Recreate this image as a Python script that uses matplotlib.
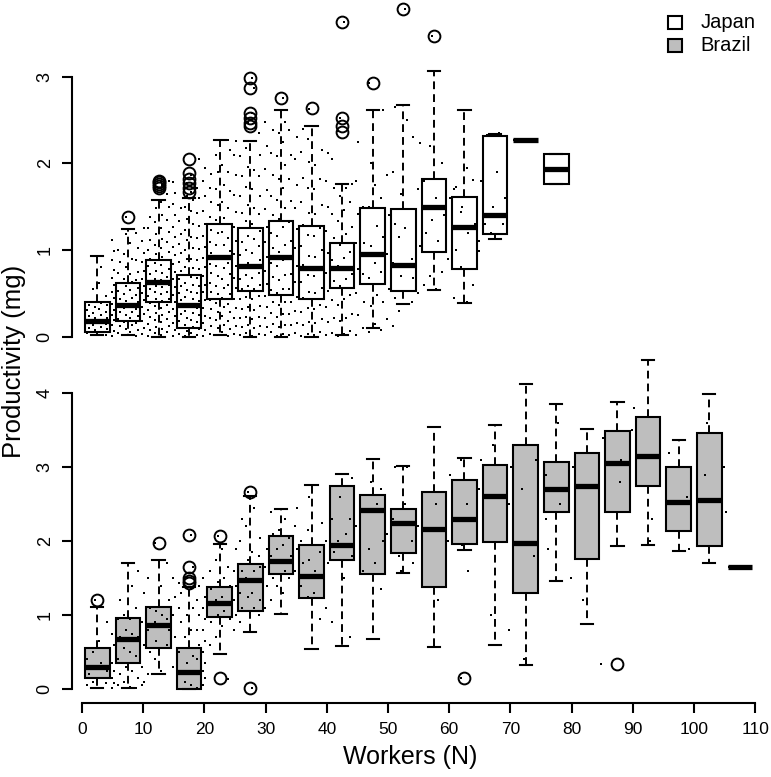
import numpy as np
import matplotlib
matplotlib.use("Agg")
import matplotlib.pyplot as plt
from matplotlib.patches import Rectangle

plt.rcParams['font.family'] = ['Liberation Sans', 'DejaVu Sans']

# ---- box statistics, one bin per 5 workers ----
jp_pos = [2.5, 7.5, 12.5, 17.5, 22.5, 27.5, 32.5, 37.5, 42.5, 47.5,
          52.5, 57.5, 62.5, 67.5, 72.5, 77.5]
jp_lo = [0.02, 0.02, 0.0, 0.0, 0.02, 0.0, 0.0, 0.0, 0.02, 0.10,
         0.38, 0.54, 0.39, 1.13, 2.27, 1.76]
jp_q1 = [0.05, 0.18, 0.40, 0.10, 0.435, 0.53, 0.48, 0.435, 0.56, 0.61,
         0.53, 0.98, 0.78, 1.18, 2.27, 1.76]
jp_med = [0.185, 0.365, 0.635, 0.365, 0.923, 0.81, 0.923, 0.79, 0.79, 0.955,
          0.83, 1.50, 1.26, 1.40, 2.27, 1.93]
jp_q3 = [0.40, 0.62, 0.89, 0.71, 1.30, 1.25, 1.34, 1.28, 1.085, 1.49,
         1.47, 1.82, 1.61, 2.315, 2.27, 2.11]
jp_hi = [0.93, 1.24, 1.58, 1.60, 2.27, 2.26, 2.62, 2.43, 1.76, 2.62,
         2.67, 3.07, 2.62, 2.34, 2.27, 2.11]
jp_out = [[], [1.385], [1.72, 1.74, 1.76, 1.78, 1.80], [1.67, 1.72, 1.77, 1.82, 1.885, 2.05],
          [], [2.43, 2.46, 2.52, 2.58, 2.87, 2.99], [2.75], [2.635],
          [2.365, 2.43, 2.52, 3.635], [2.93], [3.78], [3.47], [], [], [], []]

br_pos = [2.5, 7.5, 12.5, 17.5, 22.5, 27.5, 32.5, 37.5, 42.5, 47.5, 52.5,
          57.5, 62.5, 67.5, 72.5, 77.5, 82.5, 87.5, 92.5, 97.5, 102.5, 107.5]
br_lo = [0.01, 0.01, 0.20, 0.0, 0.47, 0.775, 1.015, 0.54, 0.58, 0.67, 1.575,
         0.57, 1.88, 0.595, 0.325, 1.46, 0.875, 1.94, 1.95, 1.87, 1.70, 1.645]
br_q1 = [0.145, 0.35, 0.55, 0.0, 0.97, 1.06, 1.555, 1.235, 1.745, 1.555, 1.835,
         1.375, 1.96, 1.985, 1.295, 2.40, 1.755, 2.40, 2.75, 2.14, 1.935, 1.645]
br_med = [0.30, 0.67, 0.866, 0.235, 1.16, 1.475, 1.735, 1.53, 1.95, 2.42, 2.25,
          2.165, 2.30, 2.615, 1.98, 2.70, 2.75, 3.06, 3.15, 2.53, 2.56, 1.645]
br_q3 = [0.56, 0.965, 1.105, 0.55, 1.385, 1.69, 2.075, 1.95, 2.75, 2.625, 2.43,
         2.66, 2.83, 3.03, 3.30, 3.075, 3.20, 3.495, 3.685, 3.0, 3.46, 1.645]
br_hi = [1.105, 1.70, 1.745, 1.385, 1.96, 2.61, 2.43, 2.76, 2.91, 3.11, 3.02,
         3.55, 3.13, 3.57, 4.13, 3.85, 3.52, 3.88, 4.45, 3.37, 3.99, 1.645]
br_out = [[1.21], [], [1.98], [1.43, 1.465, 1.50, 1.655, 2.08], [0.145, 2.07],
          [0.01, 2.67], [], [], [], [], [], [], [0.145], [], [], [], [], [0.34],
          [], [], [], []]

# ---- raw points: worker count and productivity (mg x 100) per column ----
jp_n = list(range(1, 70)) + [74, 78]
jp_vals = [
    "4 10 17 24 31 37", "2 8 14 21 27 34 55", "5 11 18 25 32 39 62 80 93",
    "2 9 15 22 29 36 47", "1 7 13 19 25 31 38 45 52 60 68 77 88 99 112",
    "4 12 20 28 36 44 53 62 74 86 100",
    "2 9 17 25 33 41 49 58 67 80 95 118 124 138",
    "5 13 21 29 37 45 54 63 72 90 108",
    "1 8 16 24 32 40 48 56 65 75 88 102 120",
    "3 10 18 26 34 42 50 58 67 76 86 97 110 125",
    "1 8 15 23 31 39 47 55 63 72 81 90 100 112 125 138",
    "4 11 19 27 35 43 51 59 67 76 85 95 106 118 132 148 158 173 177",
    "2 9 17 25 33 41 49 57 65 74 83 92 102 113 125 140 155 175 179",
    "5 12 20 28 36 44 52 60 69 78 88 98 109 121 135 150 165 180",
    "1 8 16 24 32 40 48 57 66 75 84 94 104 115 127 140 153 166 178",
    "3 10 18 26 34 42 50 58 67 76 86 96 107 119 133 148",
    "1 7 14 22 30 38 46 54 62 71 80 90 100 111 123 136 150 162 172 177",
    "4 11 19 27 35 43 51 60 69 79 90 102 115 130 145 158 167 182 187",
    "2 9 17 25 33 41 50 59 68 78 89 101 114 128 143 160 172 205",
    "1 8 16 24 33 42 51 60 70 80 91 103 116 130 145 162 180 195",
    "3 12 22 32 42 52 62 73 84 96 109 123 138 155 172 188",
    "2 10 19 29 39 49 59 70 81 93 106 120 135 152 170 190 210",
    "5 14 24 34 45 56 67 79 92 106 121 137 155 175 198",
    "1 9 18 28 38 49 60 72 85 99 114 130 148 168 190 215 227",
    "3 12 22 33 44 56 68 81 95 110 126 144 164 186 210 226",
    "2 11 21 32 43 55 67 80 94 109 125 143 162 185 208",
    "4 13 23 34 46 58 71 85 100 116 133 152 173 196 218 246 252",
    "1 10 20 31 43 55 68 82 97 113 130 149 170 192 258 287 299",
    "3 12 23 35 47 60 74 89 105 122 141 162 185 210 235",
    "2 11 22 34 47 61 76 92 109 127 147 169 193 220 248",
    "5 15 27 40 54 69 85 102 120 140 162 186 212 238",
    "1 11 23 36 50 65 81 98 116 136 158 182 208 235 262",
    "3 14 26 40 55 71 88 106 126 148 172 198 225 248 275",
    "2 13 26 40 55 72 90 110 132 156 182 210 238",
    "4 16 30 46 63 82 102 124 148 175 205 230",
    "1 14 29 45 63 83 105 129 155 183 213 240",
    "3 17 33 51 71 93 117 143 171 202 228 263",
    "2 16 32 50 70 92 116 142 170 198 243",
    "5 20 37 56 77 100 125 152 182 215",
    "2 17 34 53 74 97 122 150 180 212",
    "4 22 42 64 88 114 142 172 205",
    "1 18 37 58 81 106 133 162 237 252",
    "3 22 43 66 91 118 146 172 363",
    "6 26 48 72 98 126 155 176",
    "2 25 50 78 108 142 180 225",
    "10 40 72 108 150", "5 35 68 105 150 200 293", "15 48 85 128 175",
    "8 40 75 115 160 262", "20 55 95 140 187", "12 45 85 130 190 265",
    "30 70 115 165", "38 80 125 250 378", "40 68 90 230", "50 105 170 223",
    "60 120 180", "70 135 220 347", "55 110 160 307", "75 140 200",
    "90 160", "45 100 170 173", "80 150 144", "40 120 195", "60 130 181",
    "110 180 99", "130 233", "120 150 233", "190 235", "130 160",
    "227", "195"]

br_n = list(range(1, 56)) + [58, 60, 62, 63, 65, 67, 70, 72, 74, 76, 78,
                             80, 82, 85, 88, 90, 93, 96, 99, 102, 105]
br_vals = [
    "5 20 40", "10 30 50 121", "15 35 65", "8 25 55 90",
    "2 8 15 25 35 60 75", "5 20 40 70 95 120", "10 30 55 80 100",
    "3 25 50 75 95 140", "1 15 45 70 110 160", "5 10 30 60 90 130",
    "20 50 80 110 150", "40 65 90 105 198", "25 55 85 100 140",
    "60 80 95 120 170", "30 70 100 125 150", "50 90 110 130 143",
    "10 35 70 100 140 150", "5 45 80 110 135 165 208",
    "2 20 40 60 80 100 120 140", "5 15 25 35 50 65 80 95 110 125 150",
    "60 90 115 135 160", "70 100 120 145 175 207", "85 105 125 150 190",
    "14 95 115 140 165", "80 100 120 140 160 190", "90 110 130 160 200 230",
    "105 125 150 175 220 267", "1 110 130 160 185 245", "100 120 145 165 180 205",
    "110 140 165 190", "120 150 180 210 240", "140 170 190 215",
    "130 160 195 230", "150 180 205", "160 190 220 245", "140 170 200",
    "125 175 215 260", "130 160 195", "95 150 185 225", "110 170 200",
    "90 185 230", "200 260", "150 210 275", "70 180 230 285", "220",
    "160 240", "190 280", "170 250", "135 200 270", "210", "230 300",
    "180 160", "250 300", "200 170", "220",
    "250 120", "200 290", "15 195 310", "250 160", "270 310", "100 330",
    "80 300 250", "270 40", "180 310", "230 190 290", "360 250",
    "150 300", "120 320", "34 340", "280 310", "350 380", "200 230",
    "320 300", "260 190", "290 360", "300 240"]

# ---- figure in pixel units ----
W, H = 771, 777
fig = plt.figure(figsize=(W / 100, H / 100), dpi=100)


def add_ax(left, top, right, bottom):
    return fig.add_axes([left / W, 1 - bottom / H, (right - left) / W, (bottom - top) / H],
                        facecolor='none')


x0_px, x_scale = 82.0, 6.12
xlim = ((71.7 - x0_px) / x_scale, (771 - x0_px) / x_scale)

ax1 = add_ax(71.7, 0, 771, 352)
ax1.set_xlim(xlim)
ax1.set_ylim((336.7 - 352) / 86.67, 336.7 / 86.67)
ax2 = add_ax(71.7, 352, 771, 702.7)
ax2.set_xlim(xlim)
ax2.set_ylim((689 - 702.7) / 73.9, (689 - 352) / 73.9)


def draw_panel(ax, pos, lo, q1, med, q3, hi, out, fill, cols, vals):
    stats = []
    for i in range(len(pos)):
        stats.append(dict(whislo=lo[i], q1=q1[i], med=med[i], q3=q3[i],
                          whishi=hi[i], fliers=out[i]))
    ax.bxp(stats, positions=pos, widths=4, capwidths=2, patch_artist=True,
           manage_ticks=False,
           boxprops=dict(facecolor=fill, edgecolor='black', linewidth=1.5),
           whiskerprops=dict(color='black', linewidth=1.4, linestyle=(0, (4, 2.6))),
           capprops=dict(color='black', linewidth=1.5),
           medianprops=dict(color='black', linewidth=3.8, solid_capstyle='butt'),
           flierprops=dict(marker='o', markerfacecolor='none', markeredgecolor='black',
                           markersize=8.5, markeredgewidth=1.4))
    xs, ys = [], []
    for n, col in zip(cols, vals):
        for j, v in enumerate(col.split()):
            xs.append(n + (0.15 if j % 2 else -0.15))
            ys.append(int(v) / 100)
    ax.plot(xs, ys, 's', color='black', markersize=2.1, markeredgewidth=0,
            zorder=5, clip_on=False)


draw_panel(ax1, jp_pos, jp_lo, jp_q1, jp_med, jp_q3, jp_hi, jp_out, 'white', jp_n, jp_vals)
draw_panel(ax2, br_pos, br_lo, br_q1, br_med, br_q3, br_hi, br_out, '#BEBEBE', br_n, br_vals)

for ax, top in [(ax1, 3), (ax2, 4)]:
    for s in ['top', 'right', 'bottom']:
        ax.spines[s].set_visible(False)
    ax.spines['left'].set_bounds(0, top)
    ax.spines['left'].set_linewidth(1.5)
    ax.set_yticks(range(top + 1))
    ax.tick_params(axis='y', length=7, width=1.5, labelsize=13, labelrotation=90, pad=6)
    for lab in ax.get_yticklabels():
        lab.set_va('center')
    ax.set_xticks([])

ax2.spines['bottom'].set_visible(True)
ax2.spines['bottom'].set_bounds(0, 110)
ax2.spines['bottom'].set_linewidth(1.5)
ax2.set_xticks(range(0, 111, 10))
ax2.tick_params(axis='x', length=7.2, width=1.5, labelsize=12.5, pad=7)

fig.text(410 / W, 1 - 757 / H, 'Workers (N)', ha='center', va='center', fontsize=18)
fig.text(14 / W, 1 - 361 / H, 'Productivity (mg)', ha='center', va='center',
         rotation=90, fontsize=18.5)

# legend
for k, (name, fc) in enumerate([('Japan', 'white'), ('Brazil', '#BEBEBE')]):
    yc = 22.3 + k * 23.3
    fig.add_artist(Rectangle((667.5 / W, 1 - (yc + 6.3) / H), 14.5 / W, 12.6 / H,
                             transform=fig.transFigure, facecolor=fc,
                             edgecolor='black', linewidth=1.5))
    fig.text(700.5 / W, 1 - yc / H, name, ha='left', va='center', fontsize=14.5)

fig.savefig('out.png', dpi=100)
